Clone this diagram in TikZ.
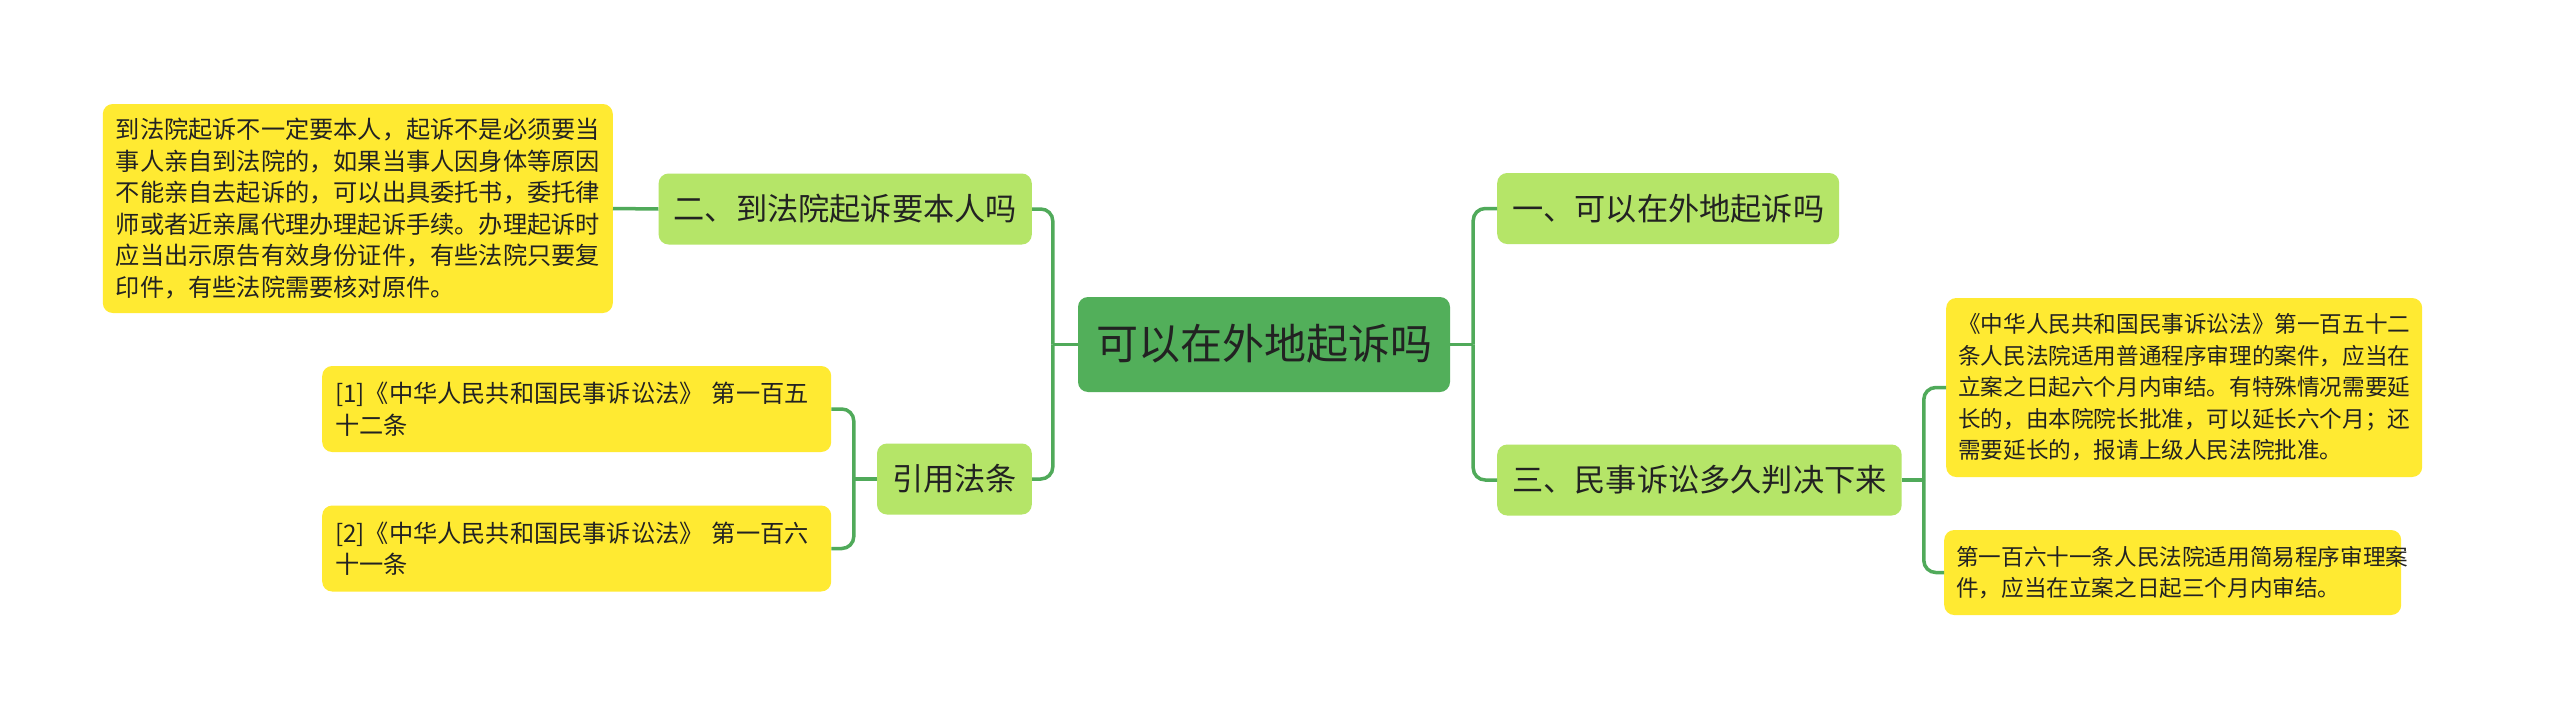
\documentclass[tikz,border=0pt]{standalone}
\usepackage{fontspec}
\setmainfont{Noto Sans CJK SC}
\definecolor{rootgreen}{RGB}{82,175,90}
\definecolor{lightgreen}{RGB}{181,229,104}
\definecolor{leafyellow}{RGB}{255,234,50}
\definecolor{linkgreen}{RGB}{80,170,90}
\definecolor{txt}{RGB}{34,34,34}
\begin{document}
\begin{tikzpicture}[x=1pt,y=-1pt,
  base/.style={rounded corners=10pt, text=txt, inner sep=0pt},
  root/.style={base, fill=rootgreen, font=\fontsize{42}{50}\selectfont, minimum width=372pt, minimum height=95pt, text height=35pt, text depth=5pt},
  lvl/.style={base, fill=lightgreen, font=\fontsize{31.2}{36}\selectfont, inner xsep=15pt, minimum height=71pt, text height=27pt, text depth=4pt},
  leaf/.style={base, fill=leafyellow, font=\fontsize{24.2}{31.5}\selectfont, inner xsep=13pt, align=left},
  leafr/.style={leaf, font=\fontsize{22.6}{31.5}\selectfont, inner xsep=12pt},
  link/.style={draw=linkgreen, line width=3.5pt, rounded corners=12pt}
]
\useasboundingbox[fill=white] (0,0) rectangle (2560,720);

% nodes
\node[root] (c) at (1264,344.5) {可以在外地起诉吗};
\node[lvl, anchor=west] (n1) at (1497,208.5) {一、可以在外地起诉吗};
\node[lvl, anchor=west] (n3) at (1497,480) {三、民事诉讼多久判决下来};
\node[lvl, anchor=east] (n2) at (1032,209) {二、到法院起诉要本人吗};
\node[lvl, anchor=east] (n4) at (1032,479) {引用法条};

\node[leaf, anchor=east, text width=484pt, minimum height=209pt] (l2) at (613,208.5) {到法院起诉不一定要本人，起诉不是必须要当\\事人亲自到法院的，如果当事人因身体等原因\\不能亲自去起诉的，可以出具委托书，委托律\\师或者近亲属代理办理起诉手续。办理起诉时\\应当出示原告有效身份证件，有些法院只要复\\印件，有些法院需要核对原件。};

\node[leaf, anchor=west, text width=483pt, minimum height=86pt] (r1) at (322,409) {[1]《中华人民共和国民事诉讼法》 第一百五\\十二条};
\node[leaf, anchor=west, text width=483pt, minimum height=86pt] (r2) at (322,548.5) {[2]《中华人民共和国民事诉讼法》 第一百六\\十一条};

\node[leafr, anchor=west, text width=452pt, minimum height=179pt] (t1) at (1946,387.5) {《中华人民共和国民事诉讼法》第一百五十二\\条人民法院适用普通程序审理的案件，应当在\\立案之日起六个月内审结。有特殊情况需要延\\长的，由本院院长批准，可以延长六个月；还\\需要延长的，报请上级人民法院批准。};
\node[leafr, anchor=west, text width=433pt, minimum height=85pt] (t2) at (1944,572.5) {第一百六十一条人民法院适用简易程序审理案\\件，应当在立案之日起三个月内审结。};

% junctions
\coordinate (jR) at ([xshift=23pt]c.east);
\coordinate (jL) at ([xshift=-25pt]c.west);
\coordinate (jC) at ([xshift=-23pt]n4.west);
\coordinate (jT) at ([xshift=22pt]n3.east);

% connectors
\draw[link] (c.east) -- (jR);
\draw[link] (jR) |- (n1.west);
\draw[link] (jR) |- (n3.west);
\draw[link] (c.west) -- (jL);
\draw[link] (jL) |- (n2.east);
\draw[link] (jL) |- (n4.east);
\draw[link] (n2.west) -- (l2.east);
\draw[link] (n4.west) -- (jC);
\draw[link] (jC) |- (r1.east);
\draw[link] (jC) |- (r2.east);
\draw[link] (n3.east) -- (jT);
\draw[link] (jT) |- (t1.west);
\draw[link] (jT) |- (t2.west);
\end{tikzpicture}
\end{document}
